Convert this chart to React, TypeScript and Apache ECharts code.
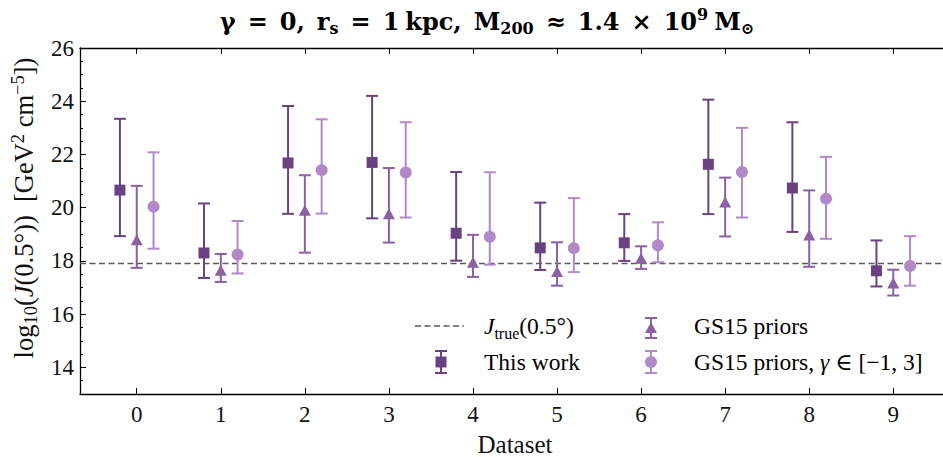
import React, { useEffect, useRef } from "react";
import * as echarts from "echarts";

const categories = [0, 1, 2, 3, 4, 5, 6, 7, 8, 9];
const yTickValues = [14, 16, 18, 20, 22, 24, 26];

const thisWorkVal = [20.66, 18.3, 21.68, 21.7, 19.04, 18.49, 18.68, 21.63, 20.74, 17.63];
const thisWorkLo = [18.93, 17.36, 19.77, 19.6, 18.01, 17.66, 18.0, 19.76, 19.09, 17.04];
const thisWorkHi = [23.34, 20.16, 23.82, 24.2, 21.34, 20.19, 19.76, 24.06, 23.21, 18.77];

const gs15Val = [18.8, 17.65, 19.9, 19.77, 17.95, 17.6, 18.1, 20.21, 18.97, 17.17];
const gs15Lo = [17.74, 17.21, 18.31, 18.69, 17.4, 17.07, 17.7, 18.92, 17.78, 16.7];
const gs15Hi = [20.82, 18.26, 21.22, 21.49, 18.98, 18.7, 18.55, 21.13, 20.65, 17.67];

const gammaVal = [20.04, 18.24, 21.41, 21.32, 18.91, 18.48, 18.59, 21.34, 20.34, 17.81];
const gammaLo = [18.46, 17.53, 19.78, 19.63, 17.86, 17.58, 17.95, 19.63, 18.83, 17.07];
const gammaHi = [22.08, 19.5, 23.32, 23.21, 21.33, 20.36, 19.45, 23.0, 21.91, 18.93];

const jTrue = 17.92;

const FONT = "'Liberation Serif', 'DejaVu Serif', serif";
const TFONT = "'DejaVu Serif', 'Liberation Serif', serif";
const C_DARK = "#6a4281";
const C_MID = "#8b61a4";
const C_LIGHT = "#b189c8";

function errData(lo: number[], hi: number[], off: number) {
  return categories.map((c, i) => [c + off, lo[i], hi[i]]);
}
function ptData(v: number[], off: number) {
  return categories.map((c, i) => [c + off, v[i]]);
}

function errSeries(name: string, lo: number[], hi: number[], off: number, color: string) {
  return {
    type: "custom",
    name,
    silent: true,
    data: errData(lo, hi, off),
    encode: { x: 0, y: [1, 2] },
    renderItem: (params: any, api: any) => {
      const x = api.value(0);
      const top = api.coord([x, api.value(2)]);
      const bot = api.coord([x, api.value(1)]);
      const hw = 6;
      const st = { stroke: color, lineWidth: 2 };
      return {
        type: "group",
        children: [
          { type: "line", shape: { x1: top[0], y1: top[1], x2: bot[0], y2: bot[1] }, style: st },
          { type: "line", shape: { x1: top[0] - hw, y1: top[1], x2: top[0] + hw, y2: top[1] }, style: st },
          { type: "line", shape: { x1: bot[0] - hw, y1: bot[1], x2: bot[0] + hw, y2: bot[1] }, style: st },
        ],
      };
    },
    z: 2,
  };
}

function legendBar(cx: number, cy: number, half: number, color: string) {
  const st = { stroke: color, lineWidth: 2 };
  return [
    { type: "line", shape: { x1: cx, y1: cy - half, x2: cx, y2: cy + half }, style: st },
    { type: "line", shape: { x1: cx - 6, y1: cy - half, x2: cx + 6, y2: cy - half }, style: st },
    { type: "line", shape: { x1: cx - 6, y1: cy + half, x2: cx + 6, y2: cy + half }, style: st },
  ];
}

const textRich = {
  n: { fontFamily: FONT, fontSize: 23.5, color: "#111", lineHeight: 30 },
  i: { fontFamily: FONT, fontSize: 23.5, color: "#111", fontStyle: "italic", lineHeight: 30 },
  sub: { fontFamily: FONT, fontSize: 16, color: "#111", lineHeight: 16, verticalAlign: "bottom" },
};

const titleText =
  "{b|γ}{g| }{b|=}{g| }{b|0,}{g| }{b|r}{s|s}{g| }{b|=}{g| }{b|1}{t| }{b|kpc,}{g| }{b|M}{s|200}{g| }{b|≈}{g| }{b|1.4}{g| }{b|×}{g| }{b|10}{p|9}{t| }{b|M}{s|⊙}";

export default function App() {
  const ref = useRef<HTMLDivElement>(null);
  useEffect(() => {
    if (!ref.current) return;
    const chart = echarts.init(ref.current, null, { renderer: "svg" });
    const xCommon = {
      type: "value",
      min: -0.675,
      max: 9.675,
      splitLine: { show: false },
      axisLine: { show: true, onZero: false, lineStyle: { color: "#000", width: 1.3 } },
    };
    const legendChildren: any[] = [
      {
        type: "line",
        shape: { x1: 415, y1: 326, x2: 464, y2: 326 },
        style: { stroke: "#5a5a5a", lineWidth: 1.3, lineDash: [6, 3.5] },
      },
      {
        type: "text",
        x: 484,
        y: 326,
        style: {
          text: "{i|J}{sub|true}{n|(0.5°)}",
          rich: textRich,
          verticalAlign: "middle",
          align: "left",
        },
      },
      ...legendBar(651, 328, 10, C_MID),
      {
        type: "polygon",
        shape: { points: [[651, 322], [645, 333], [657, 333]] },
        style: { fill: C_MID },
      },
      {
        type: "text",
        x: 694,
        y: 326,
        style: { text: "{n|GS15 priors}", rich: textRich, verticalAlign: "middle", align: "left" },
      },
      ...legendBar(441, 362, 11, C_DARK),
      { type: "rect", shape: { x: 435.5, y: 356.5, width: 11, height: 11 }, style: { fill: C_DARK } },
      {
        type: "text",
        x: 484,
        y: 362,
        style: { text: "{n|This work}", rich: textRich, verticalAlign: "middle", align: "left" },
      },
      ...legendBar(651, 362, 11, C_LIGHT),
      { type: "circle", shape: { cx: 651, cy: 362, r: 6 }, style: { fill: C_LIGHT } },
      {
        type: "text",
        x: 694,
        y: 362,
        style: {
          text: "{n|GS15 priors, }{i|γ}{n| ∈ [−1, 3]}",
          rich: textRich,
          verticalAlign: "middle",
          align: "left",
        },
      },
    ];
    chart.setOption({
      animation: false,
      backgroundColor: "#ffffff",
      grid: { left: 80, right: -7, top: 48, bottom: 63, containLabel: false, outerBoundsMode: "none" },
      graphic: [
        {
          type: "text",
          x: 487,
          y: 21,
          style: {
            text: titleText,
            align: "center",
            verticalAlign: "middle",
            rich: {
              b: { fontFamily: TFONT, fontSize: 24, fontWeight: "bold", color: "#000", lineHeight: 30 },
              g: { fontFamily: TFONT, fontSize: 10, width: 12, lineHeight: 30 },
              t: { fontFamily: TFONT, fontSize: 10, width: 6, lineHeight: 30 },
              s: { fontFamily: TFONT, fontSize: 16, fontWeight: "bold", color: "#000", lineHeight: 15, verticalAlign: "bottom" },
              p: { fontFamily: TFONT, fontSize: 16, fontWeight: "bold", color: "#000", lineHeight: 20, verticalAlign: "top" },
            },
          },
        },
        ...legendChildren,
      ],
      xAxis: [
        {
          ...xCommon,
          position: "bottom",
          name: "Dataset",
          nameLocation: "middle",
          nameGap: 29,
          nameTextStyle: { fontFamily: FONT, fontSize: 25, color: "#111", lineHeight: 28 },
          axisTick: { show: true, inside: true, length: 6, customValues: categories, lineStyle: { color: "#000" } },
          axisLabel: { show: true, customValues: categories, fontFamily: FONT, fontSize: 23, color: "#111", margin: 9 },
        },
        {
          ...xCommon,
          position: "top",
          axisTick: { show: true, inside: true, length: 6, customValues: categories, lineStyle: { color: "#000" } },
          axisLabel: { show: false },
        },
      ],
      yAxis: [
        {
          type: "value",
          min: 13,
          max: 26,
          interval: 1,
          position: "left",
          splitLine: { show: false },
          axisLine: { show: true, onZero: false, lineStyle: { color: "#000", width: 1.3 } },
          axisTick: { show: true, inside: true, length: 6, customValues: yTickValues, lineStyle: { color: "#000" } },
          axisLabel: { show: true, customValues: yTickValues, fontFamily: FONT, fontSize: 23, color: "#111", margin: 6 },
          name: "{n|log}{sub|10}{n|(}{i|J}{n|(0.5°))  [GeV}{sup|2}{n| cm}{sup|−5}{n|])}",
          nameLocation: "middle",
          nameGap: 36,
          nameTextStyle: {
            padding: [0, 0, 0, 26],
            rich: {
              n: { fontFamily: FONT, fontSize: 26.5, color: "#111", lineHeight: 32 },
              i: { fontFamily: FONT, fontSize: 26.5, color: "#111", fontStyle: "italic", lineHeight: 32 },
              sub: { fontFamily: FONT, fontSize: 18.5, color: "#111", lineHeight: 18, verticalAlign: "bottom" },
              sup: { fontFamily: FONT, fontSize: 18.5, color: "#111", lineHeight: 24, verticalAlign: "top" },
            },
          },
        },
        {
          type: "value",
          min: 13,
          max: 26,
          interval: 0.5,
          position: "left",
          splitLine: { show: false },
          axisLine: { show: false, onZero: false },
          axisTick: { show: true, inside: true, length: 3, lineStyle: { color: "#000" } },
          axisLabel: { show: false },
        },
      ],
      series: [
        errSeries("This work err", thisWorkLo, thisWorkHi, -0.2, C_DARK),
        errSeries("GS15 priors err", gs15Lo, gs15Hi, 0, C_MID),
        errSeries("GS15 gamma err", gammaLo, gammaHi, 0.2, C_LIGHT),
        {
          type: "scatter",
          name: "This work",
          symbol: "rect",
          symbolSize: 11,
          data: ptData(thisWorkVal, -0.2),
          itemStyle: { color: C_DARK, opacity: 1 },
          z: 3,
          markLine: {
            silent: true,
            symbol: "none",
            label: { show: false },
            lineStyle: { color: "#5a5a5a", type: [6, 3.5], width: 1.3 },
            data: [{ yAxis: jTrue }],
            z: 1,
          },
        },
        {
          type: "scatter",
          name: "GS15 priors",
          symbol: "triangle",
          symbolSize: [12, 11],
          data: ptData(gs15Val, 0),
          itemStyle: { color: C_MID, opacity: 1 },
          z: 3,
        },
        {
          type: "scatter",
          name: "GS15 priors, γ ∈ [−1, 3]",
          symbol: "circle",
          symbolSize: 12,
          data: ptData(gammaVal, 0.2),
          itemStyle: { color: C_LIGHT, opacity: 1 },
          z: 3,
        },
      ],
    });
    return () => chart.dispose();
  }, []);
  return (
    <div
      ref={ref}
      style={{ position: "fixed", left: 0, top: 0, width: 943, height: 457, background: "#fff" }}
    />
  );
}
